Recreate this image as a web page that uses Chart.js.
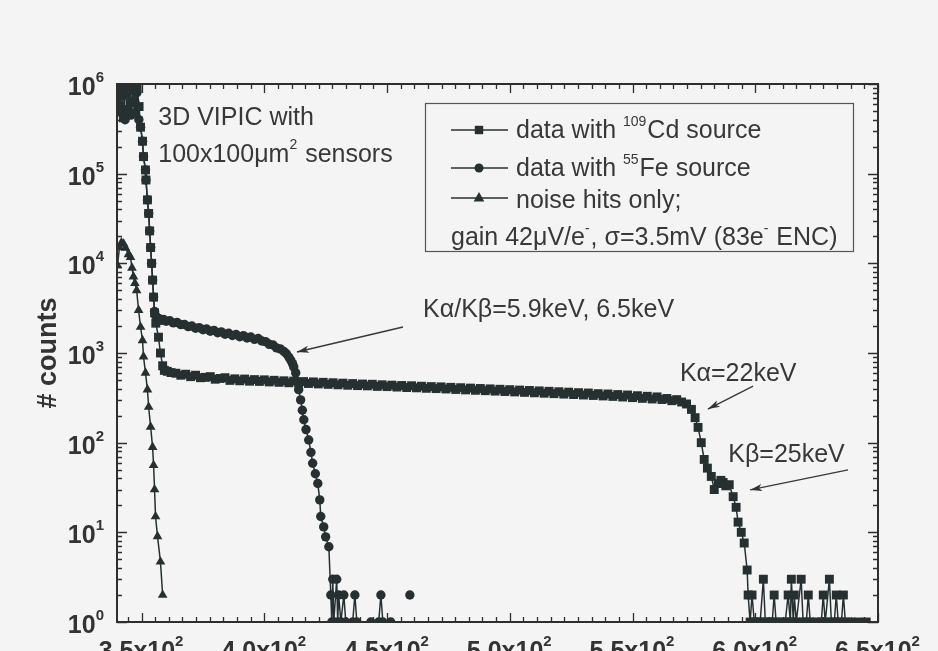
<!DOCTYPE html>
<html><head><meta charset="utf-8">
<script src="https://cdn.jsdelivr.net/npm/chart.js@4/dist/chart.umd.min.js"></script>
<style>
html,body{margin:0;padding:0;background:#f4f4f4;}
canvas{display:block;}
</style></head><body>
<canvas id="c" width="938" height="651"></canvas>
<script>
// ---------------- data ----------------
const xTickValues = [350, 400, 450, 500, 550, 600, 650];
const xTickLabels = ['3.5x10²', '4.0x10²', '4.5x10²', '5.0x10²', '5.5x10²', '6.0x10²', '6.5x10²'];
const yTickValues = [1, 10, 100, 1000, 10000, 100000, 1000000];
const yTickLabels = ['10⁰', '10¹', '10²', '10³', '10⁴', '10⁵', '10⁶'];
const seriesNames = ['data with ¹⁰⁹Cd source', 'data with ⁵⁵Fe source', 'noise hits only;'];
const yAxisTitle = '# counts';

// [threshold, counts]
const cdData = [
 [340.3,820000],[341.0,560000],[341.8,930000],[342.6,420000],[343.4,870000],[344.2,520000],
 [345.0,940000],[345.8,610000],[346.6,850000],[347.4,480000],[348.2,900000],[349.0,560000],
 [349.6,330000],[350.4,230000],[350.8,155000],[351.6,110000],[351.8,85000],[352.4,51000],
 [352.9,36000],[353.3,23000],[353.7,15000],[354.1,10000],[354.5,6500],[354.9,4200],[355.3,2800],
 [355.8,2150],[356.9,1500],[357.7,1000],[358.6,720],[359.3,640],[360.5,625],[362,605],
 [364,595],[366,565],[368,580],[370,545],[372,565],[374,530],[376,535],[378,545],[380,510],
 [382,520],[384,530],[386,495],[388,515],[390,490],[392,512],[394,485],[396,505],[398,482],
 [400,502],[402,476],[404,496],[406,471],[408,490],[410,466],[412,486],[414,462],[416,480],
 [418,457],[420,476],[422,452],[424,471],[426,447],[428,466],[430,442],[432,461],[434,437],
 [436,456],[438,433],[440,451],[442,430],[444,448],[446,424],[448,442],[450,422],[452,438],
 [454,417],[456,434],[458,412],[460,431],[462,409],[464,426],[466,404],[468,422],[470,401],
 [472,419],[474,397],[476,414],[478,392],[480,410],[482,388],[484,406],[486,384],[488,402],
 [490,380],[492,398],[494,376],[496,394],[498,372],[500,390],[502,368],[504,386],[506,364],
 [508,382],[510,360],[512,378],[514,356],[516,374],[518,352],[520,370],[522,348],[524,366],
 [526,344],[528,361],[530,340],[532,358],[534,336],[536,352],[538,332],[540,349],[542,328],
 [544,344],[546,323],[548,340],[550,318],[552,334],[554,312],[556,329],[558,307],[560,324],
 [562,303],[564,311],[566,294],[568,302],[570,284],
 [572,270],[574,235],[575.5,190],[576.7,148],[578,100],[579.2,65],[580.5,52],[582.1,42],
 [583.3,30],[584.9,35],[586,38],[586.9,36],[588,33],[589.4,34],[591,25],[592.2,19],[593,13],
 [594.3,10],[595.5,7.6],[596.7,3.8],
 [597.1,2],[597.9,1],[598.7,2],[599.6,1],[600.8,1],[602.0,1],[603.3,3],[604.1,1],[605.7,1],
 [606.9,1],[607.7,2],[608.5,1],[610.6,1],[612.2,1],[613.4,2],[614.3,1],[614.7,3],[615.5,1],
 [615.9,2],[616.7,1],[618.7,3],[619.5,1],[620.8,1],[621.6,2],[622.4,1],[624.9,1],[626.9,1],
 [627.7,2],[628.5,1],[630.2,3],[631.0,1],[632.2,1],[633.0,2],[633.8,1],[635.1,1],[635.9,2],
 [636.7,1],[639.1,1],[642.0,1],[645.2,1]
];

const feData = [
 [340.2,700000],[341.0,900000],[341.7,480000],[342.5,880000],[343.3,400000],[344.1,780000],
 [344.9,950000],[345.7,450000],[346.5,920000],[347.3,620000],[348.1,800000],[348.9,400000],
 [349.6,330000],[350.4,230000],[350.8,155000],[351.6,110000],[351.8,85000],[352.4,51000],
 [352.9,36000],[353.3,23000],[353.7,15000],[354.1,10000],[354.5,6500],[354.9,4200],[355.3,2900],
 [355.8,2600],[356.5,2450],[357.2,2420],[358,2310],[359,2360],[360,2260],[361.5,2290],
 [363,2170],[364.5,2190],[366,2070],[367.5,2080],[369,1970],[370.5,2000],[372,1890],
 [373.5,1920],[375,1820],[376.5,1850],[378,1750],[379.5,1790],[381,1680],[382.5,1720],
 [384,1620],[385.5,1660],[387,1570],[388.5,1610],[390,1520],[391.5,1560],[393,1470],
 [394.5,1510],[396,1420],[397.5,1450],[399,1360],[400.5,1340],[402,1250],[403.5,1230],
 [405,1140],[406.5,1110],[408,1040],[409,980],[410,900],[410.8,830],[411.5,760],[412,700],
 [412.8,600],[413.4,480],[414,390],[414.8,300],[415.5,230],[416.1,180],[417,140],[418.1,107],
 [419,78],[419.7,59],[420.8,45],[421.8,35],[422.6,23],[423,15],[424.2,11.5],[425,8.9],[426.3,6.9],
 [427.1,2],[427.5,1],[427.9,3],[428.3,1],[429.5,3],[429.9,1],[430.3,2],[431.2,1],[432.4,2],
 [433.2,1],[436,1],[436.9,2],[437.7,1],[443.4,1],[446.6,1],[447.5,2],[448.3,1],[451.5,1],
 [455,null],[459.3,2],[463,null]
];

const noiseData = [
 [340.2,9500],[341.0,15000],[341.8,17000],[342.7,16500],[343.5,14800],[344.7,12600],
 [345.5,11700],[346.1,8900],[346.7,7100],[347.3,6000],[348.0,5000],[348.8,3000],[349.6,1950],
 [350.4,1380],[350.8,910],[351.6,600],[352.4,390],[352.9,250],[353.7,150],[354.5,89],
 [354.9,56],[355.3,30],[355.7,15],[356.5,9],[357.7,4.7],[358.6,2]
];

// ---------------- annotations (placed in data coordinates) ----------------
const notes = [
  {x: 356.8, y: 3.49e5, text: '3D VIPIC with'},
  {x: 356.8, y: 1.36e5, text: '100x100μm² sensors'},
  {x: 464.7, y: 2520, text: 'Kα/Kβ=5.9keV, 6.5keV'},
  {x: 569.3, y: 491, text: 'Kα=22keV'},
  {x: 589.0, y: 61.3, text: 'Kβ=25keV'}
];
const arrows = [
  {x0: 456.5, y0: 1950, x1: 413.3, y1: 1026},
  {x0: 599.1, y0: 428, x1: 580.7, y1: 237},
  {x0: 637.8, y0: 49.6, x1: 597.9, y1: 29.7}
];
const legendNote = 'gain 42μV/e⁻, σ=3.5mV (83e⁻ ENC)';

// ---------------- styling ----------------
const FONT = '"Liberation Sans", Arial, Helvetica, sans-serif';
const INK = '#263030';
const TEXT = '#383838';
const SUP = {'⁰':'0','¹':'1','²':'2','³':'3','⁴':'4','⁵':'5','⁶':'6','⁷':'7','⁸':'8','⁹':'9','⁻':'-'};

function splitSup(str) {
  const parts = [];
  for (const ch of str) {
    const s = ch in SUP;
    const c = s ? SUP[ch] : ch;
    if (parts.length && parts[parts.length - 1][1] === s) parts[parts.length - 1][0] += c;
    else parts.push([c, s]);
  }
  return parts;
}
function richWidth(ctx, parts, size, weight, supK) {
  let w = 0;
  for (const [t, sup] of parts) {
    ctx.font = weight + ' ' + (sup ? Math.round(size * supK) : size) + 'px ' + FONT;
    w += ctx.measureText(t).width + (sup ? 1 : 0);
  }
  return w;
}
function drawRich(ctx, str, x, y, size, opt) {
  const o = Object.assign({weight: 'normal', align: 'left', supK: 0.56, raise: 0.5}, opt || {});
  const parts = splitSup(str);
  const w = richWidth(ctx, parts, size, o.weight, o.supK);
  let cx = o.align === 'center' ? x - w / 2 : o.align === 'right' ? x - w : x;
  for (const [t, sup] of parts) {
    ctx.font = o.weight + ' ' + (sup ? Math.round(size * o.supK) : size) + 'px ' + FONT;
    ctx.fillText(t, cx, sup ? y - size * o.raise : y);
    cx += ctx.measureText(t).width + (sup ? 1 : 0);
  }
}
function marker(ctx, style, x, y) {
  ctx.beginPath();
  if (style === 'rect') { ctx.rect(x - 4.2, y - 4.2, 8.4, 8.4); }
  else if (style === 'circle') { ctx.arc(x, y, 4.5, 0, Math.PI * 2); }
  else { ctx.moveTo(x, y - 6); ctx.lineTo(x + 5.3, y + 3.6); ctx.lineTo(x - 5.3, y + 3.6); ctx.closePath(); }
  ctx.fill();
}
function arrow(ctx, x0, y0, x1, y1) {
  ctx.beginPath(); ctx.moveTo(x0, y0); ctx.lineTo(x1, y1); ctx.stroke();
  const a = Math.atan2(y1 - y0, x1 - x0), L = 12, W = 3.6;
  ctx.beginPath();
  ctx.moveTo(x1, y1);
  ctx.lineTo(x1 - L * Math.cos(a) + W * Math.sin(a), y1 - L * Math.sin(a) - W * Math.cos(a));
  ctx.lineTo(x1 - L * Math.cos(a) * 0.75, y1 - L * Math.sin(a) * 0.75);
  ctx.lineTo(x1 - L * Math.cos(a) - W * Math.sin(a), y1 - L * Math.sin(a) + W * Math.cos(a));
  ctx.closePath(); ctx.fill();
}

const framePlugin = {
  id: 'frame',
  afterDatasetsDraw(chart) {
    const {ctx, chartArea: a, scales: {x, y}} = chart;
    ctx.save();
    ctx.strokeStyle = '#2e2e2e';
    ctx.lineWidth = 1.3;
    ctx.beginPath();
    const step = 50 / 9;
    for (let k = -2; k <= 56; k++) {
      const v = 350 + k * step;
      if (v < x.min - 1e-6 || v > x.max + 1e-6) continue;
      const px = Math.round(x.getPixelForValue(v)) + 0.5;
      const len = (((k % 9) + 9) % 9 === 0) ? 9 : 5;
      ctx.moveTo(px, a.bottom); ctx.lineTo(px, a.bottom - len);
      ctx.moveTo(px, a.top); ctx.lineTo(px, a.top + len);
    }
    for (let d = 0; d <= 6; d++) {
      for (let m = 1; m <= 9; m++) {
        const v = m * Math.pow(10, d);
        if (v > y.max * 1.0001) break;
        const py = Math.round(y.getPixelForValue(v)) + 0.5;
        const len = m === 1 ? 10 : 5;
        ctx.moveTo(a.left, py); ctx.lineTo(a.left + len, py);
        ctx.moveTo(a.right, py); ctx.lineTo(a.right - len, py);
      }
    }
    ctx.stroke();
    ctx.lineWidth = 2;
    ctx.strokeRect(a.left, a.top, a.right - a.left, a.bottom - a.top);
    ctx.restore();
  },
  afterDraw(chart) {
    const {ctx, chartArea: a, scales: {x, y}} = chart;
    const X = v => x.getPixelForValue(v), Y = v => y.getPixelForValue(v);
    ctx.save();
    ctx.textBaseline = 'alphabetic';

    // tick labels (bold, with raised exponents)
    ctx.fillStyle = '#333';
    yTickValues.forEach((v, i) => {
      drawRich(ctx, yTickLabels[i], a.left - 12, Y(v) + 11, 25, {weight: 'bold', align: 'right', supK: 0.6, raise: 0.52});
    });
    xTickValues.forEach((v, i) => {
      drawRich(ctx, xTickLabels[i], X(v), a.bottom + 37, 25, {weight: 'bold', align: 'center', supK: 0.6, raise: 0.52});
    });

    // notes and arrows
    ctx.fillStyle = TEXT; ctx.strokeStyle = TEXT;
    for (const n of notes) drawRich(ctx, n.text, X(n.x), Y(n.y), 25);
    ctx.lineWidth = 1.3; ctx.fillStyle = '#333';
    for (const r of arrows) arrow(ctx, X(r.x0), Y(r.y0), X(r.x1), Y(r.y1));

    // legend box
    const bx = a.left + 308, by = a.top + 19, bw = 428, bh = 148;
    ctx.strokeStyle = '#555'; ctx.lineWidth = 1.2;
    ctx.strokeRect(bx + 0.5, by + 0.5, bw, bh);
    const rowsMid = [27, 65, 95], rowsBase = [35, 73, 105];
    chart.data.datasets.forEach((ds, i) => {
      const my = by + rowsMid[i];
      ctx.strokeStyle = INK; ctx.lineWidth = 1.4;
      ctx.beginPath(); ctx.moveTo(bx + 26, my); ctx.lineTo(bx + 83, my); ctx.stroke();
      ctx.fillStyle = INK;
      marker(ctx, ds.pointStyle, bx + 54, my);
      ctx.fillStyle = TEXT;
      drawRich(ctx, ds.label, bx + 91, by + rowsBase[i], 25);
    });
    ctx.fillStyle = TEXT;
    drawRich(ctx, legendNote, bx + 26, by + 142, 25);
    ctx.restore();
  }
};

const toPts = arr => arr.map(p => ({x: p[0], y: p[1]}));
const base = {showLine: true, borderColor: INK, backgroundColor: INK, borderWidth: 1.5,
  pointBorderWidth: 0, pointHoverRadius: 0, spanGaps: false};

new Chart(document.getElementById('c'), {
  type: 'scatter',
  data: {datasets: [
    Object.assign({label: seriesNames[0], data: toPts(cdData), pointStyle: 'rect', pointRadius: 6.3}, base),
    Object.assign({label: seriesNames[1], data: toPts(feData), pointStyle: 'circle', pointRadius: 4.7}, base),
    Object.assign({label: seriesNames[2], data: toPts(noiseData), pointStyle: 'triangle', pointRadius: 5.6}, base)
  ]},
  options: {
    responsive: false, animation: false, devicePixelRatio: 1, events: [],
    layout: {padding: {top: 84, right: 60, left: 0, bottom: 0}},
    plugins: {legend: {display: false}, tooltip: {enabled: false}},
    scales: {
      x: {
        type: 'linear', min: 340, max: 650,
        grid: {display: false, drawTicks: false}, border: {display: false},
        afterBuildTicks: s => { s.ticks = xTickValues.map(v => ({value: v})); },
        afterFit: s => { s.height = 29; },
        ticks: {display: false}
      },
      y: {
        type: 'logarithmic', min: 1, max: 1000000,
        grid: {display: false, drawTicks: false}, border: {display: false},
        afterBuildTicks: s => { s.ticks = yTickValues.map(v => ({value: v})); },
        afterFit: s => { s.width = 117; },
        ticks: {display: false},
        title: {display: true, text: yAxisTitle, color: '#333',
          font: {family: FONT, size: 27, weight: 'bold'}, padding: {top: 32, bottom: 0}}
      }
    }
  },
  plugins: [framePlugin]
});
</script>
</body></html>
